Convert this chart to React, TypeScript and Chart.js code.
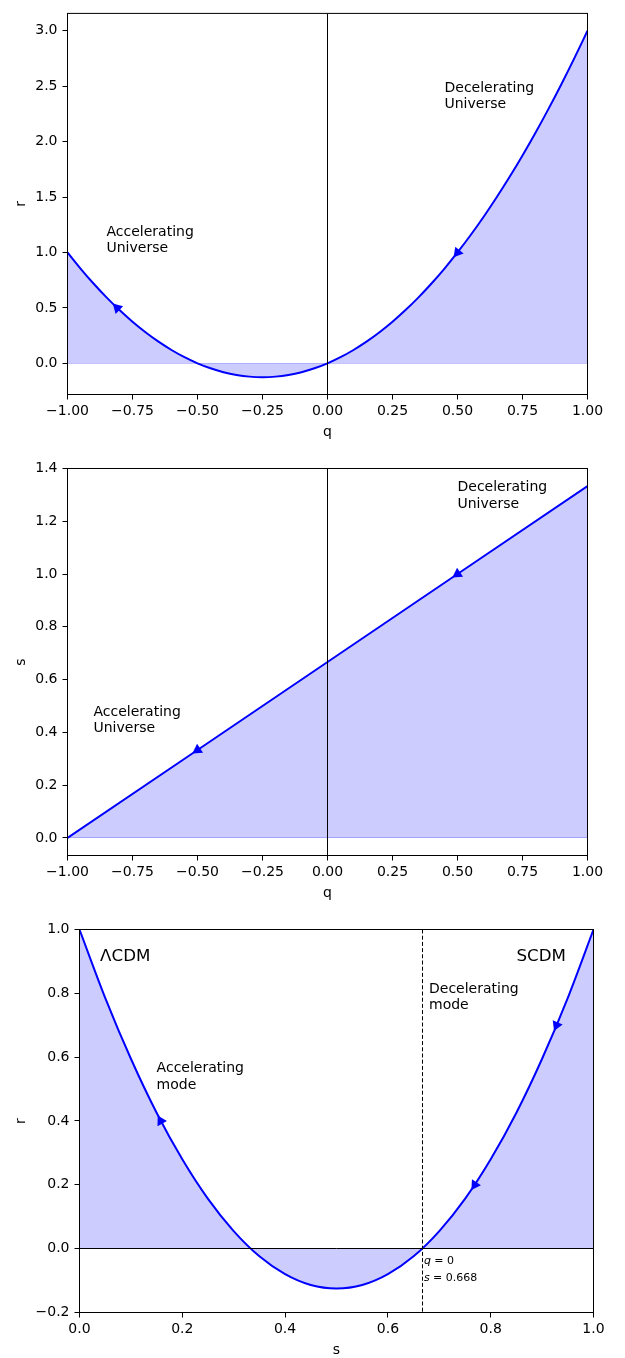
import React, { useEffect, useRef } from "react";
import { Chart, registerables } from "chart.js";

Chart.register(...registerables);

const FONT = '"DejaVu Sans", "Liberation Sans", sans-serif';
const BLUE = "#0000ff";
const FILL = "rgba(0,0,255,0.2)";

// ---- r as a function of q ----
const rqQ = [
  -1, -0.95, -0.9, -0.85, -0.8, -0.75, -0.7, -0.65, -0.6, -0.55, -0.5, -0.45, -0.4, -0.35, -0.3,
  -0.25, -0.2, -0.15, -0.1, -0.05, 0, 0.05, 0.1, 0.15, 0.2, 0.25, 0.3, 0.35, 0.4, 0.45, 0.5, 0.55,
  0.6, 0.65, 0.7, 0.75, 0.8, 0.85, 0.9, 0.95, 1,
];
const rqR = [
  1, 0.855, 0.72, 0.595, 0.48, 0.375, 0.28, 0.195, 0.12, 0.055, 0, -0.045, -0.08, -0.105, -0.12,
  -0.125, -0.12, -0.105, -0.08, -0.045, 0, 0.055, 0.12, 0.195, 0.28, 0.375, 0.48, 0.595, 0.72,
  0.855, 1.0, 1.155, 1.32, 1.495, 1.68, 1.875, 2.08, 2.295, 2.52, 2.755, 3.0,
];
const rqArrowQ = [-0.809, 0.5];
const rqArrowR = [0.5, 1.0];
const qTicks = [-1, -0.75, -0.5, -0.25, 0, 0.25, 0.5, 0.75, 1];
const rqTicksY = [0, 0.5, 1, 1.5, 2, 2.5, 3];

// ---- s as a function of q ----
const sqQ = [-1, -0.5, 0, 0.5, 1];
const sqS = [0, 0.3333, 0.6667, 1.0, 1.3333];
const sqArrowQ = [-0.5, 0.5];
const sqArrowS = [0.3333, 1.0];
const sqTicksY = [0, 0.2, 0.4, 0.6, 0.8, 1.0, 1.2, 1.4];

// ---- r as a function of s ----
const rsS = [
  0, 0.05, 0.1, 0.15, 0.2, 0.25, 0.3, 0.35, 0.4, 0.45, 0.5, 0.55, 0.6, 0.65, 0.7, 0.75, 0.8, 0.85,
  0.9, 0.95, 1,
];
const rsR = [
  1, 0.786, 0.595, 0.426, 0.28, 0.156, 0.055, -0.024, -0.08, -0.114, -0.125, -0.114, -0.08, -0.024,
  0.055, 0.156, 0.28, 0.426, 0.595, 0.786, 1,
];
const rsArrowS = [0.158, 0.769, 0.928];
const rsArrowR = [0.4, 0.2, 0.7];
const rsTicksX = [0, 0.2, 0.4, 0.6, 0.8, 1.0];
const rsTicksY = [-0.2, 0, 0.2, 0.4, 0.6, 0.8, 1.0];
const qZeroS = 0.668;

type Note = { lines: string[]; x: number; y: number; size: number; step: number; math?: boolean };

const rqNotes: Note[] = [
  { lines: ["Accelerating", "Universe"], x: -0.85, y: 1.0, size: 14, step: 16.7 },
  { lines: ["Decelerating", "Universe"], x: 0.45, y: 2.3, size: 14, step: 16.7 },
];
const sqNotes: Note[] = [
  { lines: ["Accelerating", "Universe"], x: -0.9, y: 0.4, size: 14, step: 16.7 },
  { lines: ["Decelerating", "Universe"], x: 0.5, y: 1.25, size: 14, step: 16.7 },
];
const rsNotes: Note[] = [
  { lines: ["ΛCDM"], x: 0.04, y: 0.9, size: 16.7, step: 20 },
  { lines: ["SCDM"], x: 0.85, y: 0.9, size: 16.7, step: 20 },
  { lines: ["Accelerating", "mode"], x: 0.15, y: 0.5, size: 14, step: 16.7 },
  { lines: ["Decelerating", "mode"], x: 0.68, y: 0.75, size: 14, step: 16.7 },
  { lines: ["q = 0", "s = 0.668"], x: 0.67, y: -0.1, size: 11, step: 16.3, math: true },
];

type PanelSpec = {
  canvasTop: number;
  canvasHeight: number;
  padTop: number;
  padRight: number;
  yAxisWidth: number;
  xAxisHeight: number;
  xMin: number;
  xMax: number;
  yMin: number;
  yMax: number;
  xTicks: number[];
  yTicks: number[];
  xDecimals: number;
  yDecimals: number;
  xTitle: string;
  yTitle: string;
  curveX: number[];
  curveY: number[];
  smooth: boolean;
  arrowX: number[];
  arrowY: number[];
  notes: Note[];
  vLine?: { x: number; dashed: boolean };
  hLine?: number;
};

const panels: PanelSpec[] = [
  {
    canvasTop: 0, canvasHeight: 450, padTop: 5.5, padRight: 37.5, yAxisWidth: 67.5, xAxisHeight: 55.5,
    xMin: -1, xMax: 1, yMin: -0.28125, yMax: 3.15625, xTicks: qTicks, yTicks: rqTicksY,
    xDecimals: 2, yDecimals: 1, xTitle: "q", yTitle: "r",
    curveX: rqQ, curveY: rqR, smooth: true, arrowX: rqArrowQ, arrowY: rqArrowR,
    notes: rqNotes, vLine: { x: 0, dashed: false },
  },
  {
    canvasTop: 455, canvasHeight: 455, padTop: 13.5, padRight: 37.5, yAxisWidth: 67.5, xAxisHeight: 54.5,
    xMin: -1, xMax: 1, yMin: -0.0667, yMax: 1.4, xTicks: qTicks, yTicks: sqTicksY,
    xDecimals: 2, yDecimals: 1, xTitle: "q", yTitle: "s",
    curveX: sqQ, curveY: sqS, smooth: false, arrowX: sqArrowQ, arrowY: sqArrowS,
    notes: sqNotes, vLine: { x: 0, dashed: false },
  },
  {
    canvasTop: 910, canvasHeight: 448, padTop: 19.5, padRight: 31.5, yAxisWidth: 79.5, xAxisHeight: 45.5,
    xMin: 0, xMax: 1, yMin: -0.2, yMax: 1.0, xTicks: rsTicksX, yTicks: rsTicksY,
    xDecimals: 1, yDecimals: 1, xTitle: "s", yTitle: "r",
    curveX: rsS, curveY: rsR, smooth: true, arrowX: rsArrowS, arrowY: rsArrowR,
    notes: rsNotes, vLine: { x: qZeroS, dashed: true }, hLine: 0,
  },
];

const snap = (v: number) => Math.round(v - 0.5) + 0.5;

const fmt = (v: number, d: number) => {
  const s = Math.abs(v).toFixed(d);
  return v < -1e-9 ? "\u2212" + s : s;
};

// Rotation (degrees) of an arrow head so it points along the curve towards smaller x.
function arrowRotation(curveX: number[], curveY: number[], ax: number[]) {
  return (ctx: any) => {
    const chart = ctx.chart;
    const xs = chart.scales.x;
    const ys = chart.scales.y;
    const v = ax[ctx.dataIndex];
    if (v === undefined || !xs || !ys) return 0;
    let j = 0;
    while (j < curveX.length - 2 && curveX[j + 1] < v) j++;
    const dx = xs.getPixelForValue(curveX[j]) - xs.getPixelForValue(curveX[j + 1]);
    const dy = ys.getPixelForValue(curveY[j]) - ys.getPixelForValue(curveY[j + 1]);
    return (Math.atan2(dx, -dy) * 180) / Math.PI;
  };
}

function drawMathLine(ctx: CanvasRenderingContext2D, text: string, x: number, y: number, size: number) {
  let cx = x;
  for (const ch of text) {
    const italic = /[a-z]/i.test(ch);
    ctx.font = `${italic ? "italic " : ""}${size}px ${FONT}`;
    ctx.fillText(ch, cx, y);
    cx += ctx.measureText(ch).width;
  }
}

function extrasPlugin(spec: PanelSpec) {
  return {
    id: "panelExtras",
    afterDatasetsDraw(chart: any) {
      const { ctx, chartArea: a, scales } = chart;
      const xs = scales.x;
      const ys = scales.y;
      ctx.save();
      ctx.beginPath();
      ctx.rect(a.left, a.top, a.right - a.left, a.bottom - a.top);
      ctx.clip();
      // edge of the shaded region along zero
      const y0 = snap(ys.getPixelForValue(0));
      ctx.strokeStyle = FILL;
      ctx.lineWidth = 1;
      ctx.beginPath();
      ctx.moveTo(a.left, y0);
      ctx.lineTo(a.right, y0);
      ctx.stroke();
      ctx.strokeStyle = "#000";
      if (spec.hLine !== undefined) {
        const yh = snap(ys.getPixelForValue(spec.hLine));
        ctx.beginPath();
        ctx.moveTo(a.left, yh);
        ctx.lineTo(a.right, yh);
        ctx.stroke();
      }
      if (spec.vLine) {
        const xv = snap(xs.getPixelForValue(spec.vLine.x));
        ctx.setLineDash(spec.vLine.dashed ? [4, 2.2] : []);
        ctx.beginPath();
        ctx.moveTo(xv, a.top);
        ctx.lineTo(xv, a.bottom);
        ctx.stroke();
        ctx.setLineDash([]);
      }
      ctx.restore();
    },
    afterDraw(chart: any) {
      const { ctx, chartArea: a, scales } = chart;
      const xs = scales.x;
      const ys = scales.y;
      ctx.save();
      // axes frame
      ctx.strokeStyle = "#000";
      ctx.lineWidth = 1;
      ctx.strokeRect(a.left, a.top, a.right - a.left, a.bottom - a.top);

      // annotations
      ctx.fillStyle = "#000";
      ctx.textAlign = "left";
      ctx.textBaseline = "alphabetic";
      for (const n of spec.notes) {
        const px = xs.getPixelForValue(n.x);
        const py = ys.getPixelForValue(n.y);
        n.lines.forEach((line, i) => {
          const ly = py - (n.lines.length - 1 - i) * n.step;
          if (n.math) {
            drawMathLine(ctx, line, px, ly, n.size);
          } else {
            ctx.font = `${n.size}px ${FONT}`;
            ctx.fillText(line, px, ly);
          }
        });
      }

      // axis titles
      ctx.font = `14px ${FONT}`;
      ctx.textAlign = "center";
      ctx.fillText(spec.xTitle, (a.left + a.right) / 2, a.bottom + 41.5);
      ctx.translate(25, (a.top + a.bottom) / 2);
      ctx.rotate(-Math.PI / 2);
      ctx.fillText(spec.yTitle, 0, 0);
      ctx.restore();
    },
  };
}

function Panel({ spec }: { spec: PanelSpec }) {
  const ref = useRef<HTMLCanvasElement | null>(null);

  useEffect(() => {
    if (!ref.current) return;
    const tickFont = { family: FONT, size: 14 };
    const chart = new Chart(ref.current, {
      type: "line",
      data: {
        datasets: [
          {
            label: "direction",
            data: spec.arrowX.map((v, i) => ({ x: v, y: spec.arrowY[i] })),
            showLine: false,
            fill: false,
            pointStyle: "triangle",
            pointRadius: 6.2,
            pointBackgroundColor: BLUE,
            pointBorderColor: BLUE,
            pointBorderWidth: 0,
            pointRotation: arrowRotation(spec.curveX, spec.curveY, spec.arrowX) as any,
          } as any,
          {
            label: "curve",
            data: spec.curveX.map((v, i) => ({ x: v, y: spec.curveY[i] })),
            borderColor: BLUE,
            borderWidth: 2,
            backgroundColor: FILL,
            fill: { value: 0 },
            pointRadius: 0,
            tension: 0,
            cubicInterpolationMode: spec.smooth ? "monotone" : "default",
          } as any,
        ],
      },
      options: {
        animation: false,
        responsive: false,
        events: [],
        layout: { padding: { top: spec.padTop, right: spec.padRight, bottom: 0, left: 0 } },
        plugins: { legend: { display: false }, tooltip: { enabled: false } },
        scales: {
          x: {
            type: "linear",
            min: spec.xMin,
            max: spec.xMax,
            bounds: "data",
            border: { display: false },
            grid: { display: true, drawOnChartArea: false, drawTicks: true, tickLength: 5, color: "#000", lineWidth: 1 },
            ticks: {
              autoSkip: false,
              maxRotation: 0,
              padding: 3,
              color: "#000",
              font: tickFont,
              callback: (v: any) => fmt(Number(v), spec.xDecimals),
            },
            afterBuildTicks: (s: any) => {
              s.ticks = spec.xTicks.map((v) => ({ value: v }));
            },
            afterFit: (s: any) => {
              s.height = spec.xAxisHeight;
            },
          },
          y: {
            type: "linear",
            min: spec.yMin,
            max: spec.yMax,
            bounds: "data",
            border: { display: false },
            grid: { display: true, drawOnChartArea: false, drawTicks: true, tickLength: 5, color: "#000", lineWidth: 1 },
            ticks: {
              autoSkip: false,
              padding: 5,
              color: "#000",
              font: tickFont,
              callback: (v: any) => fmt(Number(v), spec.yDecimals),
            },
            afterBuildTicks: (s: any) => {
              s.ticks = spec.yTicks.map((v) => ({ value: v }));
            },
            afterFit: (s: any) => {
              s.width = spec.yAxisWidth;
            },
          },
        },
      } as any,
      plugins: [extrasPlugin(spec)],
    });
    return () => chart.destroy();
  }, [spec]);

  return (
    <canvas
      ref={ref}
      width={625}
      height={spec.canvasHeight}
      style={{ position: "absolute", left: 0, top: spec.canvasTop, width: 625, height: spec.canvasHeight, display: "block" }}
    />
  );
}

export default function App() {
  return (
    <div style={{ position: "absolute", left: 0, top: 0, width: 625, height: 1358, background: "#fff" }}>
      {panels.map((p, i) => (
        <Panel key={i} spec={p} />
      ))}
    </div>
  );
}
